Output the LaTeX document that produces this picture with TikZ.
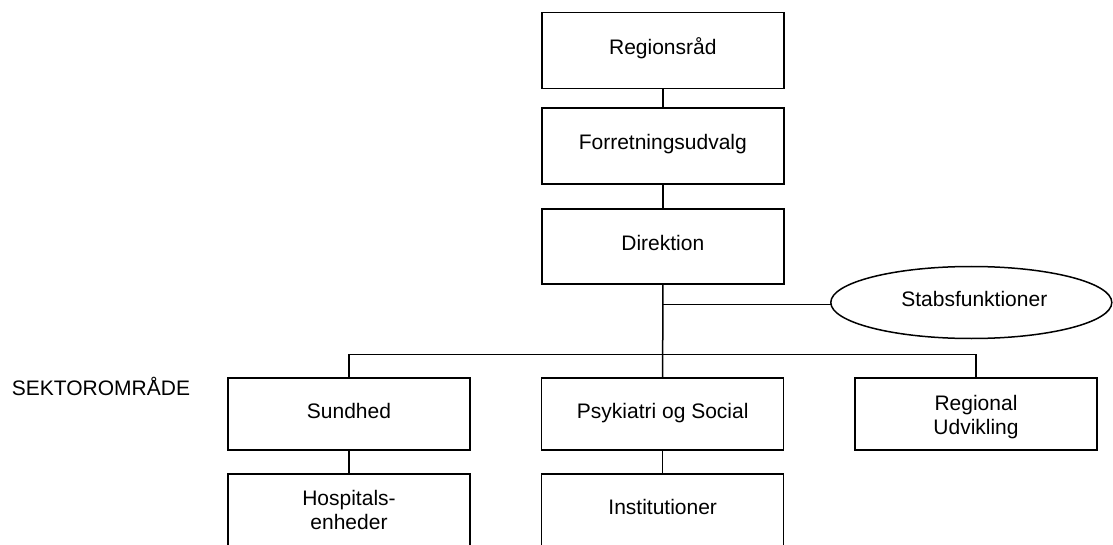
\documentclass[tikz,border=0pt]{standalone}
\usepackage{fontspec}
\setmainfont{Liberation Sans}
\usetikzlibrary{shapes.geometric}
\begin{document}
\begin{tikzpicture}[x=1pt,y=-1pt,
  box/.style={draw, line width=1.5pt, minimum width=242pt, minimum height=76pt, inner sep=0pt, outer sep=0pt},
  lowbox/.style={box, minimum height=72pt},
  ell/.style={draw, ellipse, line width=1.5pt, minimum width=281pt, minimum height=72pt, inner sep=0pt, outer sep=0pt},
  txt/.style={font=\fontsize{21}{24}\selectfont, inner sep=0pt, anchor=base},
  txttwo/.style={font=\fontsize{21}{24}\selectfont, inner sep=0pt, align=center, anchor=north},
  conn/.style={line width=1.5pt}]
\useasboundingbox (0,0) rectangle (1113,545);
\fill[white] (0,0) rectangle (1113,545);

% boxes
\node[box] (reg) at (662.8,50.5) {};
\node[box] (forr) at (662.8,146) {};
\node[box, minimum height=75pt] (dir) at (662.8,246.5) {};
\node[ell] (stab) at (971.3,302.5) {};
\node[lowbox] (sund) at (349,414.2) {};
\node[lowbox] (psyk) at (662.7,414.2) {};
\node[lowbox] (regu) at (976,414.2) {};
\node[lowbox] (hosp) at (349,510) {};
\node[lowbox] (inst) at (662.7,510) {};

% texts
\node[txt] (regt) at ([yshift=-4pt]reg.center) {Regionsråd};
\node[txt] (forrt) at ([yshift=-4pt]forr.center) {Forretningsudvalg};
\node[txt] (dirt) at ([yshift=-4pt]dir.center) {Direktion};
\node[txt] (stabt) at ([xshift=3pt,yshift=-3.6pt]stab.center) {Stabsfunktioner};
\node[txt] (sundt) at ([yshift=-4.5pt]sund.center) {Sundhed};
\node[txt] (psykt) at ([yshift=-4.5pt]psyk.center) {Psykiatri og Social};
\node[txttwo] (regut) at ([yshift=19.5pt]regu.center) {Regional\\Udvikling};
\node[txttwo] (hospt) at ([yshift=19.5pt]hosp.center) {Hospitals-\\enheder};
\node[txt] (instt) at ([yshift=-4.5pt]inst.center) {Institutioner};
\node[txt, anchor=base west] (sekt) at (11.7,395.7) {SEKTOROMRÅDE};

% connectors
\coordinate (stj) at (662.7,304.7);
\coordinate (bar) at (662.7,354.3);
\draw[conn] (reg) -- (forr);
\draw[conn] (forr) -- (dir);
\draw[conn] (dir.south) -- (psyk.north);
\draw[conn] (stj) -- (stj -| stab.west);
\draw[conn] (sund.north) |- (bar) -| (regu.north);
\draw[conn] (sund) -- (hosp);
\draw[conn] (psyk) -- (inst);
\end{tikzpicture}
\end{document}
